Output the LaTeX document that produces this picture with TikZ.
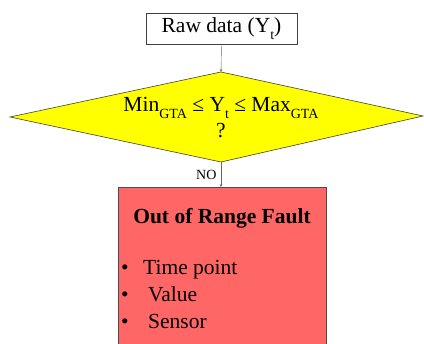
\documentclass[tikz,border=0pt]{standalone}
\usepackage{fontspec}
\setmainfont{Liberation Serif}
\usetikzlibrary{arrows.meta}
\definecolor{faultred}{RGB}{255,102,102}
\definecolor{decyellow}{RGB}{255,255,0}
\newcommand\lowsub[1]{\raisebox{-0.3em}{\fontsize{14}{14}\selectfont #1}}
\begin{document}
\begin{tikzpicture}[x=1pt,y=-1pt,
  bigtext/.style={font=\fontsize{21.5}{24}\selectfont},
  flow/.style={draw=black!60, line width=0.4pt, -{Stealth[length=3pt,width=2.5pt]}},
  edge/.style={draw=black!75, line width=0.6pt}]
\clip (0,0) rectangle (424,344);
\fill[white] (0,0) rectangle (424,344);

% input box
\node[edge, fill=white, minimum width=151pt, minimum height=31pt, inner sep=0pt,
      bigtext] (raw) at (221.5,28.5) {Raw data (Y\lowsub{t})};

% decision diamond
\coordinate (dtop) at (221,72);
\coordinate (dright) at (423,116);
\coordinate (dbot) at (221,162);
\coordinate (dleft) at (10,117);
\draw[edge, fill=decyellow] (dtop) -- (dright) -- (dbot) -- (dleft) -- cycle;
\node[bigtext, anchor=base, inner sep=0pt] (cond) at (221,112)
  {Min\lowsub{GTA} ≤ Y\lowsub{t} ≤ Max\lowsub{GTA}};
\node[bigtext, anchor=base, inner sep=0pt] (quest) at (221,138) {?};

% fault box
\node[edge, draw=black!70, fill=faultred, minimum width=208pt, minimum height=200pt,
      inner sep=0pt, anchor=north] (fault) at (222,187) {};
\node[bigtext, font=\bfseries\fontsize{21.5}{24}\selectfont, anchor=base, inner sep=0pt]
  (title) at (222,224) {Out of Range Fault};
\node[bigtext, anchor=base west, inner sep=0pt] (b1) at (121,275) {\textbullet};
\node[bigtext, anchor=base west, inner sep=0pt] (t1) at (143,275) {Time point};
\node[bigtext, anchor=base west, inner sep=0pt] (b2) at (121,302) {\textbullet};
\node[bigtext, anchor=base west, inner sep=0pt] (t2) at (148,302) {Value};
\node[bigtext, anchor=base west, inner sep=0pt] (b3) at (121,329) {\textbullet};
\node[bigtext, anchor=base west, inner sep=0pt] (t3) at (148,329) {Sensor};

% connectors
\draw[flow] (raw.south) -- (dtop);
\draw[flow] (dbot) -- (fault.north -| dbot)
  node[midway, left=1pt, font=\fontsize{14}{16}\selectfont] (no) {NO};
\end{tikzpicture}
\end{document}
